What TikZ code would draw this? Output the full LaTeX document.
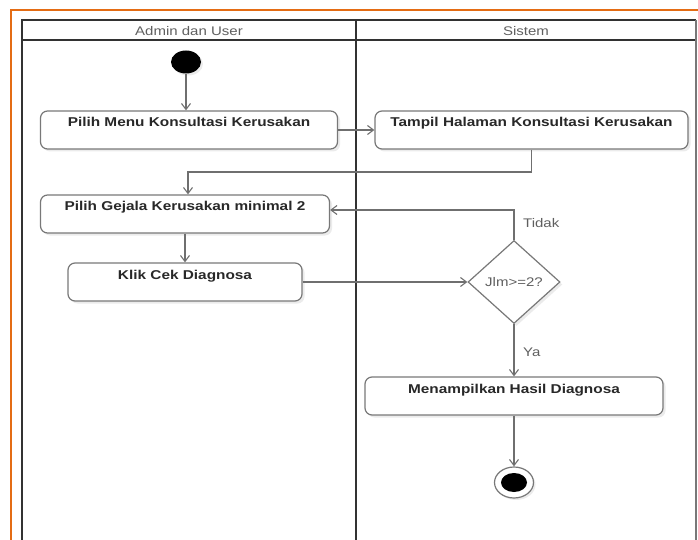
\documentclass[tikz,border=0pt]{standalone}
\usepackage{fontspec}
\setmainfont{Liberation Sans}[FakeStretch=1.2]
\usepackage{tikz}
\usetikzlibrary{shapes.geometric, arrows.meta, shadows}
\definecolor{frameorange}{RGB}{228, 108, 20}
\definecolor{lanegray}{RGB}{50, 50, 50}
\definecolor{boxgray}{RGB}{120, 120, 120}
\definecolor{txtgray}{RGB}{40, 40, 40}
\definecolor{lblgray}{RGB}{95, 95, 95}

\begin{document}
\begin{tikzpicture}[
    x=1pt, y=-1pt,
    every node/.style={font=\fontsize{12.5}{14}\selectfont},
    act/.style={rectangle, draw=boxgray, line width=1.2pt, rounded corners=7pt, fill=white,
        text=txtgray, font=\fontsize{12.8}{14}\selectfont\bfseries,
        inner ysep=4pt, text height=12pt, text depth=18pt,
        drop shadow={shadow xshift=2.5pt, shadow yshift=-2.5pt, fill=black, opacity=0.08}},
    decision/.style={diamond, draw=boxgray, line width=1.2pt, fill=white, inner sep=0pt,
        minimum width=92pt, minimum height=83pt, text=lblgray,
        drop shadow={shadow xshift=2.5pt, shadow yshift=-2.5pt, fill=black, opacity=0.08}},
    startnode/.style={ellipse, fill=black, minimum width=30pt, minimum height=23pt, inner sep=0pt,
        drop shadow={shadow xshift=2pt, shadow yshift=-2pt, fill=black, opacity=0.08}},
    endnode/.style={ellipse, draw=boxgray, line width=1.2pt, fill=white, minimum width=39pt,
        minimum height=31pt, inner sep=0pt,
        drop shadow={shadow xshift=2pt, shadow yshift=-2pt, fill=black, opacity=0.08}},
    lbl/.style={text=lblgray, inner sep=0pt},
    arrow/.style={draw=lblgray!90, line width=1.1pt, -{Straight Barb[length=6pt, width=9pt]}}
]
    \useasboundingbox (0,0) rectangle (698,540);
    % frame and swimlanes
    \draw[frameorange, line width=2pt] (11,540) -- (11,10) -- (698,10);
    \draw[lanegray, line width=1.6pt] (22,540) -- (22,20) -- (696,20);
    \draw[lanegray, line width=1.6pt] (22,40) -- (696,40);
    \draw[lanegray, line width=1.8pt] (356,20) -- (356,540);
    \draw[boxgray, line width=1.2pt] (696,20) -- (696,540);
    \node[lbl] (lane1) at (189,31) {Admin dan User};
    \node[lbl] (lane2) at (526,31) {Sistem};

    \node[startnode] (start) at (186,62) {};
    \node[act, minimum width=297pt] (menu) at (189,130) {Pilih Menu Konsultasi Kerusakan};
    \node[act, minimum width=313pt] (tampil) at (531.5,130) {Tampil Halaman Konsultasi Kerusakan};
    \node[act, minimum width=289pt] (gejala) at (185,214) {Pilih Gejala Kerusakan minimal 2};
    \node[act, minimum width=234pt] (cek) at (185,282) {Klik Cek Diagnosa};
    \node[decision] (jlm) at (514,282) {Jlm>=2?};
    \node[act, minimum width=298pt] (hasil) at (514,396) {Menampilkan Hasil Diagnosa};
    \node[endnode] (end) at (514,482.5) {};
    \node[ellipse, fill=black, minimum width=26pt, minimum height=19pt, inner sep=0pt] (endin) at (end) {};

    \coordinate (j1) at (188,172);
    \coordinate (j2) at (514,210);

    \draw[arrow] (start) -- (start |- menu.north);
    \draw[arrow] (menu.east) -- (tampil.west);
    \draw[arrow] (tampil.south) |- (j1) -- (j1 |- gejala.north);
    \draw[arrow] (gejala) -- (cek);
    \draw[arrow] (cek.east) -- (jlm.west);
    \draw[arrow] (jlm.north) -- (j2) -- (j2 -| gejala.east);
    \node[lbl, anchor=west] (tidak) at (523,223) {Tidak};
    \draw[arrow] (jlm.south) -- (hasil.north);
    \node[lbl, anchor=west] (ya) at (523,352) {Ya};
    \draw[arrow] (hasil.south) -- (end.north);
\end{tikzpicture}
\end{document}
